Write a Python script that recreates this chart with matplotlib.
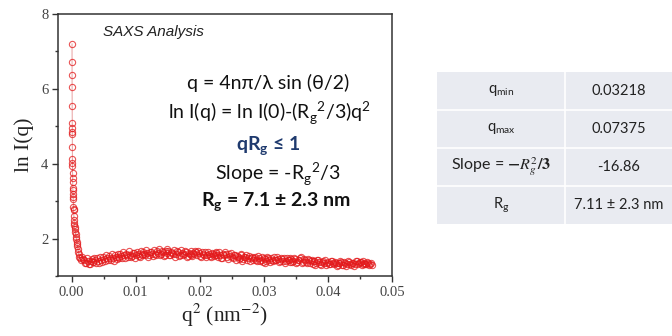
import numpy as np
import matplotlib.pyplot as plt
from matplotlib.patches import Rectangle
from matplotlib.ticker import MultipleLocator

# steep low-q part (q^2 in nm^-2, ln I)
q2_low = [0.00005, 0.00005, 0.00006, 0.00006, 0.00007, 0.00008, 0.00008, 0.00009,
          0.00009, 0.00010, 0.00010, 0.00011, 0.00012, 0.00013, 0.00014, 0.00015,
          0.00017, 0.00018, 0.00020, 0.00022, 0.00024, 0.00026, 0.00028, 0.00030,
          0.00033, 0.00036, 0.00039, 0.00042, 0.00046, 0.00050, 0.00055, 0.00060,
          0.00066, 0.00072, 0.00078, 0.00084, 0.00090, 0.00097, 0.00104, 0.00112,
          0.00120, 0.00130, 0.00140]
lnI_low = [7.20, 6.72, 6.38, 6.05, 5.55, 5.10, 4.95, 4.85,
           4.80, 4.45, 4.12, 4.02, 3.95, 3.75, 3.62, 3.50,
           3.35, 3.30, 3.20, 3.10, 3.05, 2.85, 2.80, 2.75,
           2.60, 2.50, 2.42, 2.35, 2.30, 2.25, 2.18, 2.12,
           2.05, 1.98, 1.92, 1.85, 1.80, 1.72, 1.65, 1.58,
           1.52, 1.47, 1.42]

# plateau part, first set
q2_high = [0.0016, 0.0019, 0.0022, 0.0025, 0.0028, 0.0031, 0.0034, 0.0037, 0.0040, 0.0043,
           0.0046, 0.0049, 0.0052, 0.0055, 0.0058, 0.0061, 0.0064, 0.0067, 0.0070, 0.0073,
           0.0076, 0.0079, 0.0082, 0.0085, 0.0088, 0.0091, 0.0094, 0.0097, 0.0100, 0.0103,
           0.0106, 0.0109, 0.0112, 0.0115, 0.0118, 0.0121, 0.0124, 0.0127, 0.0130, 0.0133,
           0.0136, 0.0139, 0.0142, 0.0145, 0.0148, 0.0151, 0.0154, 0.0157, 0.0160, 0.0163,
           0.0166, 0.0169, 0.0172, 0.0175, 0.0178, 0.0181, 0.0184, 0.0187, 0.0190, 0.0193,
           0.0196, 0.0199, 0.0202, 0.0205, 0.0208, 0.0211, 0.0214, 0.0217, 0.0220, 0.0223,
           0.0226, 0.0229, 0.0232, 0.0235, 0.0238, 0.0241, 0.0244, 0.0247, 0.0250, 0.0253,
           0.0256, 0.0259, 0.0262, 0.0265, 0.0268, 0.0271, 0.0274, 0.0277, 0.0280, 0.0283,
           0.0286, 0.0289, 0.0292, 0.0295, 0.0298, 0.0301, 0.0304, 0.0307, 0.0310, 0.0313,
           0.0316, 0.0319, 0.0322, 0.0325, 0.0328, 0.0331, 0.0334, 0.0337, 0.0340, 0.0343,
           0.0346, 0.0349, 0.0352, 0.0355, 0.0358, 0.0361, 0.0364, 0.0367, 0.0370, 0.0373,
           0.0376, 0.0379, 0.0382, 0.0385, 0.0388, 0.0391, 0.0394, 0.0397, 0.0400, 0.0403,
           0.0406, 0.0409, 0.0412, 0.0415, 0.0418, 0.0421, 0.0424, 0.0427, 0.0430, 0.0433,
           0.0436, 0.0439, 0.0442, 0.0445, 0.0448, 0.0451, 0.0454, 0.0457, 0.0460, 0.0463,
           0.0466, 0.0469]
lnI_high = [1.52, 1.42, 1.36, 1.40, 1.33, 1.45, 1.38, 1.42, 1.47, 1.36,
            1.44, 1.50, 1.40, 1.47, 1.53, 1.43, 1.49, 1.56, 1.46, 1.52,
            1.58, 1.49, 1.55, 1.60, 1.51, 1.57, 1.53, 1.62, 1.55, 1.59,
            1.52, 1.60, 1.65, 1.55, 1.61, 1.57, 1.63, 1.54, 1.60, 1.66,
            1.72, 1.58, 1.64, 1.56, 1.61, 1.67, 1.57, 1.62, 1.70, 1.59,
            1.63, 1.55, 1.61, 1.58, 1.64, 1.53, 1.60, 1.57, 1.62, 1.68,
            1.56, 1.61, 1.52, 1.59, 1.63, 1.55, 1.58, 1.50, 1.60, 1.56,
            1.62, 1.52, 1.57, 1.49, 1.55, 1.59, 1.46, 1.53, 1.50, 1.56,
            1.43, 1.52, 1.48, 1.55, 1.45, 1.50, 1.42, 1.53, 1.47, 1.44,
            1.51, 1.40, 1.47, 1.43, 1.38, 1.46, 1.41, 1.49, 1.37, 1.44,
            1.50, 1.42, 1.46, 1.39, 1.45, 1.48, 1.40, 1.44, 1.37, 1.46,
            1.41, 1.45, 1.38, 1.43, 1.50, 1.37, 1.42, 1.35, 1.44, 1.39,
            1.33, 1.41, 1.36, 1.44, 1.32, 1.38, 1.35, 1.30, 1.37, 1.33,
            1.40, 1.31, 1.36, 1.29, 1.34, 1.38, 1.30, 1.35, 1.32, 1.37,
            1.30, 1.36, 1.33, 1.41, 1.34, 1.38, 1.31, 1.36, 1.33, 1.35,
            1.32, 1.30]

# plateau part, interleaved second set
q2_high2 = [0.00175, 0.00205, 0.00235, 0.00265, 0.00295, 0.00325, 0.00355, 0.00385, 0.00415, 0.00445,
            0.00475, 0.00505, 0.00535, 0.00565, 0.00595, 0.00625, 0.00655, 0.00685, 0.00715, 0.00745,
            0.00775, 0.00805, 0.00835, 0.00865, 0.00895, 0.00925, 0.00955, 0.00985, 0.01015, 0.01045,
            0.01075, 0.01105, 0.01135, 0.01165, 0.01195, 0.01225, 0.01255, 0.01285, 0.01315, 0.01345,
            0.01375, 0.01405, 0.01435, 0.01465, 0.01495, 0.01525, 0.01555, 0.01585, 0.01615, 0.01645,
            0.01675, 0.01705, 0.01735, 0.01765, 0.01795, 0.01825, 0.01855, 0.01885, 0.01915, 0.01945,
            0.01975, 0.02005, 0.02035, 0.02065, 0.02095, 0.02125, 0.02155, 0.02185, 0.02215, 0.02245,
            0.02275, 0.02305, 0.02335, 0.02365, 0.02395, 0.02425, 0.02455, 0.02485, 0.02515, 0.02545,
            0.02575, 0.02605, 0.02635, 0.02665, 0.02695, 0.02725, 0.02755, 0.02785, 0.02815, 0.02845,
            0.02875, 0.02905, 0.02935, 0.02965, 0.02995, 0.03025, 0.03055, 0.03085, 0.03115, 0.03145,
            0.03175, 0.03205, 0.03235, 0.03265, 0.03295, 0.03325, 0.03355, 0.03385, 0.03415, 0.03445,
            0.03475, 0.03505, 0.03535, 0.03565, 0.03595, 0.03625, 0.03655, 0.03685, 0.03715, 0.03745,
            0.03775, 0.03805, 0.03835, 0.03865, 0.03895, 0.03925, 0.03955, 0.03985, 0.04015, 0.04045,
            0.04075, 0.04105, 0.04135, 0.04165, 0.04195, 0.04225, 0.04255, 0.04285, 0.04315, 0.04345,
            0.04375, 0.04405, 0.04435, 0.04465, 0.04495, 0.04525, 0.04555, 0.04585, 0.04615, 0.04645,
            0.04675]
lnI_high2 = [1.45, 1.34, 1.47, 1.32, 1.41, 1.37, 1.49, 1.35, 1.40, 1.50,
             1.38, 1.45, 1.55, 1.42, 1.48, 1.58, 1.41, 1.51, 1.60, 1.47,
             1.53, 1.63, 1.48, 1.56, 1.66, 1.52, 1.61, 1.49, 1.64, 1.54,
             1.67, 1.55, 1.58, 1.69, 1.52, 1.64, 1.59, 1.70, 1.56, 1.62,
             1.57, 1.68, 1.53, 1.66, 1.71, 1.55, 1.63, 1.58, 1.52, 1.67,
             1.54, 1.69, 1.57, 1.66, 1.51, 1.62, 1.67, 1.53, 1.58, 1.63,
             1.66, 1.53, 1.64, 1.57, 1.50, 1.65, 1.54, 1.62, 1.53, 1.64,
             1.55, 1.63, 1.48, 1.60, 1.64, 1.51, 1.58, 1.61, 1.47, 1.57,
             1.54, 1.46, 1.58, 1.41, 1.50, 1.56, 1.47, 1.40, 1.52, 1.49,
             1.42, 1.53, 1.39, 1.50, 1.47, 1.36, 1.52, 1.43, 1.47, 1.39,
             1.43, 1.51, 1.37, 1.47, 1.41, 1.36, 1.49, 1.43, 1.47, 1.38,
             1.47, 1.36, 1.44, 1.48, 1.34, 1.46, 1.38, 1.45, 1.36, 1.43,
             1.39, 1.30, 1.42, 1.37, 1.29, 1.40, 1.43, 1.36, 1.31, 1.39,
             1.34, 1.38, 1.28, 1.36, 1.41, 1.30, 1.37, 1.28, 1.39, 1.31,
             1.36, 1.28, 1.39, 1.32, 1.37, 1.29, 1.40, 1.32, 1.38, 1.30,
             1.35]

# table contents
row_labels = ['q$_{\\mathregular{min}}$', 'q$_{\\mathregular{max}}$',
              'Slope = $\\boldsymbol{-R_g^2/3}$', 'R$_{\\mathregular{g}}$']
row_values = ['0.03218', '0.07375', '-16.86', '7.11 \u00b1 2.3 nm']

W, H = 672, 336
fig = plt.figure(figsize=(W / 100, H / 100), dpi=100)


def fx(px):
    return px / W


def fy(py):
    return 1 - py / H


ax = fig.add_axes([fx(58), fy(276), (392 - 58) / W, (276 - 14) / H])

q2 = np.array(q2_low + q2_high + q2_high2)
lnI = np.array(lnI_low + lnI_high + lnI_high2)
order = np.argsort(q2, kind='stable')
ax.plot(q2[order], lnI[order], '-', color='#e8a0a0', lw=0.7, zorder=1)
ax.plot(q2[order], lnI[order], 'o', mfc='none', mec='#e31a1c', mew=0.8, ms=4.5,
        alpha=0.75, ls='none', zorder=2)

ax.set_xlim(-0.00214, 0.05)
ax.set_ylim(1, 8)
ax.xaxis.set_major_locator(MultipleLocator(0.01))
ax.xaxis.set_minor_locator(MultipleLocator(0.005))
ax.yaxis.set_major_locator(MultipleLocator(2))
ax.yaxis.set_minor_locator(MultipleLocator(1))
ax.xaxis.set_major_formatter(plt.FuncFormatter(lambda v, p: f'{v:.2f}'))
ax.yaxis.set_major_formatter(plt.FuncFormatter(lambda v, p: f'{v:.0f}'))

serif = ['Liberation Serif', 'DejaVu Serif']
ax.tick_params(which='major', direction='out', length=4, width=1, colors='#333333',
               labelsize=10.5, pad=3)
ax.tick_params(which='minor', direction='out', length=2.5, width=1, colors='#333333')
for lab in ax.get_xticklabels() + ax.get_yticklabels():
    lab.set_fontfamily(serif)
    lab.set_color('#444444')
for s in ax.spines.values():
    s.set_linewidth(1.1)
    s.set_color('#333333')

ax.set_xlabel('q$^{2}$ (nm$^{-2}$)', fontsize=15.5, family=serif, color='#222222',
              math_fontfamily='stix', labelpad=2)
ax.set_ylabel('ln I(q)', fontsize=15.5, family=serif, color='#222222', labelpad=5)

sans = ['Lato', 'DejaVu Sans']
fig.text(fx(153), fy(32), 'SAXS Analysis', ha='center', va='center', fontsize=11,
         style='italic', family=['Liberation Sans', 'DejaVu Sans'], color='#222222')

eq_color = '#111111'
fig.text(fx(268), fy(83), 'q = 4n\u03c0/\u03bb sin (\u03b8/2)', ha='center', va='center',
         fontsize=14, family=sans, color=eq_color)
fig.text(fx(270), fy(113),
         'ln I(q) = ln I(0)-(R$_{\\mathregular{g}}$$^{\\mathregular{2}}$/3)q$^{\\mathregular{2}}$',
         ha='center', va='center', fontsize=14, family=sans, color=eq_color)
fig.text(fx(268), fy(146), 'qR$_{\\mathregular{g}}$ \u2264 1', ha='center', va='center',
         fontsize=14, family=sans, weight='bold', color='#1f3a6e')
fig.text(fx(278), fy(174), 'Slope = -R$_{\\mathregular{g}}$$^{\\mathregular{2}}$/3',
         ha='center', va='center', fontsize=14, family=sans, color=eq_color)
fig.text(fx(276), fy(202), 'R$_{\\mathregular{g}}$ = 7.1 \u00b1 2.3 nm', ha='center',
         va='center', fontsize=14, family=sans, weight='bold', color=eq_color)

# table on the right
tab_left, tab_mid, tab_right = 437, 565, 672
row_tops = [72, 110, 148, 186, 224]
fig.patches.append(Rectangle((fx(tab_left), fy(row_tops[-1])), fx(tab_right - tab_left),
                             (row_tops[-1] - row_tops[0]) / H, transform=fig.transFigure,
                             facecolor='#e9ebf1', edgecolor='none', zorder=0))
for yy in row_tops[1:-1]:
    fig.add_artist(plt.Line2D([fx(tab_left), fx(tab_right)], [fy(yy), fy(yy)],
                              color='white', lw=1.2, transform=fig.transFigure))
fig.add_artist(plt.Line2D([fx(tab_mid), fx(tab_mid)], [fy(row_tops[0]), fy(row_tops[-1])],
                          color='white', lw=1.2, transform=fig.transFigure))
label_sizes = [10.5, 10.5, 11.5, 10.5]
for i in range(len(row_labels)):
    yc = (row_tops[i] + row_tops[i + 1]) / 2
    fig.text(fx((tab_left + tab_mid) / 2), fy(yc), row_labels[i], ha='center', va='center',
             fontsize=label_sizes[i], family=sans, color='#222222', math_fontfamily='stix')
    fig.text(fx(619), fy(yc), row_values[i], ha='center', va='center',
             fontsize=10.5, family=sans, color='#222222')

fig.savefig('out.png', dpi=100)
